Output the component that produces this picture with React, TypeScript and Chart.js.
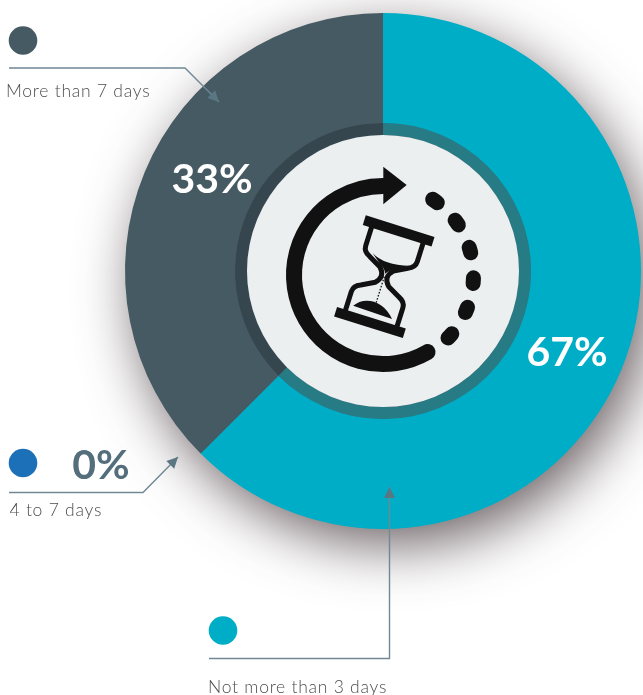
import React, { useEffect, useRef } from "react";
import { Chart, registerables } from "chart.js";

Chart.register(...registerables);

const categories = ["Not more than 3 days", "4 to 7 days", "More than 7 days"];
const percentLabels = ["67%", "0%", "33%"];
// slice sizes as drawn in the picture (share of the circle)
const sliceValues = [62.5, 0, 37.5];
const sliceColors = ["#00adc6", "#1b70b8", "#465a63"];
const ringColors = ["#277b84", "#1b70b8", "#36464f"];

const LINE = "#6f8894";
const TEXT = "#4d4d4d";
const ICON = "#111111";

const callouts = [
  { pts: [[209, 658.5], [389.5, 658.5], [389.5, 487]], dot: [223, 630.5], text: [208, 693] },
  { pts: [[9, 492.5], [143, 492.5], [178, 457]], dot: [23, 463], text: [9.5, 516] },
  { pts: [[9, 68], [185, 68], [219, 102]], dot: [23, 40.5], text: [6, 97] },
];
const percentPos = [
  { x: 567, y: 366, color: "#ffffff" },
  { x: 101, y: 479, color: "#546e7c" },
  { x: 212, y: 193, color: "#ffffff" },
];
const dotAngles = [-54.9, -35.4, -16, 3.6, 22.7, 42.3];

function arrowHead(ctx: CanvasRenderingContext2D, from: number[], tip: number[]) {
  const a = Math.atan2(tip[1] - from[1], tip[0] - from[0]);
  const len = 11;
  const w = 5.5;
  ctx.beginPath();
  ctx.moveTo(tip[0], tip[1]);
  ctx.lineTo(tip[0] - len * Math.cos(a) + w * Math.sin(a), tip[1] - len * Math.sin(a) - w * Math.cos(a));
  ctx.lineTo(tip[0] - len * Math.cos(a) - w * Math.sin(a), tip[1] - len * Math.sin(a) + w * Math.cos(a));
  ctx.closePath();
  ctx.fill();
}

function drawHourglass(ctx: CanvasRenderingContext2D, cx: number, cy: number) {
  ctx.save();
  ctx.translate(cx, cy);
  ctx.rotate((17.4 * Math.PI) / 180);
  ctx.fillStyle = ICON;
  ctx.strokeStyle = ICON;
  // bars
  ctx.fillRect(-36, -53, 72, 10);
  ctx.fillRect(-36, 43, 72, 10);
  // glass
  ctx.lineWidth = 5;
  ctx.lineJoin = "round";
  ctx.beginPath();
  ctx.moveTo(-27, -44);
  ctx.lineTo(-27, -24);
  ctx.quadraticCurveTo(-27, -18, -20, -15);
  ctx.lineTo(-7, -8);
  ctx.quadraticCurveTo(-3, -4, -3, 0);
  ctx.quadraticCurveTo(-3, 4, -7, 8);
  ctx.lineTo(-20, 15);
  ctx.quadraticCurveTo(-27, 18, -27, 24);
  ctx.lineTo(-27, 44);
  ctx.moveTo(27, -44);
  ctx.lineTo(27, -24);
  ctx.quadraticCurveTo(27, -18, 20, -15);
  ctx.lineTo(7, -8);
  ctx.quadraticCurveTo(3, -4, 3, 0);
  ctx.quadraticCurveTo(3, 4, 7, 8);
  ctx.lineTo(20, 15);
  ctx.quadraticCurveTo(27, 18, 27, 24);
  ctx.lineTo(27, 44);
  ctx.stroke();
  // upper sand
  ctx.beginPath();
  ctx.moveTo(-18, -19);
  ctx.quadraticCurveTo(-4, -11, 21, -18);
  ctx.lineTo(6, -9);
  ctx.quadraticCurveTo(1, -6, 0, -3);
  ctx.quadraticCurveTo(-2, -8, -7, -10);
  ctx.closePath();
  ctx.fill();
  // falling grains
  ctx.lineWidth = 1.3;
  ctx.setLineDash([1.6, 1.6]);
  ctx.beginPath();
  ctx.moveTo(0, 0);
  ctx.lineTo(0, 27);
  ctx.stroke();
  ctx.setLineDash([]);
  // lower sand
  ctx.beginPath();
  ctx.moveTo(-21, 37);
  ctx.bezierCurveTo(-14, 25, 6, 22, 20, 38);
  ctx.closePath();
  ctx.fill();
  ctx.restore();
}

function drawCenter(ctx: CanvasRenderingContext2D, cx: number, cy: number) {
  ctx.save();
  ctx.fillStyle = "#ebeff0";
  ctx.beginPath();
  ctx.arc(cx, cy, 136, 0, Math.PI * 2);
  ctx.fill();

  const ix = cx;
  const iy = cy + 4;
  const rad = (d: number) => (d * Math.PI) / 180;
  ctx.strokeStyle = ICON;
  ctx.fillStyle = ICON;
  ctx.lineWidth = 16;
  ctx.lineCap = "round";
  ctx.beginPath();
  ctx.arc(ix, iy, 89, rad(60), rad(-90) - 0.001 + Math.PI * 2, false);
  ctx.stroke();
  ctx.beginPath();
  ctx.moveTo(383.3, 166.7);
  ctx.lineTo(406.7, 185);
  ctx.lineTo(383.3, 204.3);
  ctx.closePath();
  ctx.fill();
  ctx.lineWidth = 15;
  dotAngles.forEach((d) => {
    ctx.beginPath();
    ctx.arc(ix, iy, 90.5, rad(d - 1.8), rad(d + 1.8));
    ctx.stroke();
  });
  ctx.lineCap = "butt";
  drawHourglass(ctx, cx + 1.3, cy + 5.7);
  ctx.restore();
}

const decorPlugin = {
  id: "decor",
  beforeDatasetsDraw(chart: any) {
    const arc = chart.getDatasetMeta(0).data[0];
    const ctx: CanvasRenderingContext2D = chart.ctx;
    ctx.save();
    ctx.shadowColor = "rgba(70,58,62,0.8)";
    ctx.shadowBlur = 56;
    ctx.shadowOffsetX = 10;
    ctx.shadowOffsetY = 17;
    ctx.fillStyle = "#465a63";
    ctx.beginPath();
    ctx.arc(arc.x, arc.y, arc.outerRadius - 1, 0, Math.PI * 2);
    ctx.fill();
    ctx.restore();
  },
  afterDatasetsDraw(chart: any) {
    const arc = chart.getDatasetMeta(0).data[0];
    const ctx: CanvasRenderingContext2D = chart.ctx;
    drawCenter(ctx, arc.x, arc.y);

    ctx.save();
    categories.forEach((label, i) => {
      const c = callouts[i];
      ctx.strokeStyle = LINE;
      ctx.lineWidth = 1.4;
      ctx.beginPath();
      c.pts.forEach((p, k) => (k ? ctx.lineTo(p[0], p[1]) : ctx.moveTo(p[0], p[1])));
      ctx.stroke();
      ctx.fillStyle = "#5b7683";
      arrowHead(ctx, c.pts[c.pts.length - 2], c.pts[c.pts.length - 1]);

      ctx.fillStyle = sliceColors[i];
      ctx.beginPath();
      ctx.arc(c.dot[0], c.dot[1], 14.3, 0, Math.PI * 2);
      ctx.fill();

      ctx.fillStyle = TEXT;
      ctx.font = '300 17.5px Lato, "Noto Sans", sans-serif';
      ctx.textAlign = "left";
      ctx.textBaseline = "alphabetic";
      (ctx as any).letterSpacing = "0.75px";
      ctx.fillText(label, c.text[0], c.text[1]);
      (ctx as any).letterSpacing = "0px";

      const pos = percentPos[i];
      ctx.fillStyle = pos.color;
      ctx.font = 'bold 41px Lato, "Noto Sans", sans-serif';
      ctx.textAlign = "center";
      ctx.fillText(percentLabels[i], pos.x, pos.y);
    });
    ctx.restore();
  },
};

export default function App() {
  const ref = useRef<HTMLCanvasElement>(null);
  useEffect(() => {
    const chart = new Chart(ref.current!, {
      type: "doughnut",
      data: {
        labels: categories,
        datasets: [
          { data: sliceValues, backgroundColor: sliceColors, borderWidth: 0, hoverOffset: 0, weight: 110 },
          { data: sliceValues, backgroundColor: ringColors, borderWidth: 0, hoverOffset: 0, weight: 12 },
        ],
      },
      options: {
        responsive: false,
        animation: false,
        cutout: 136,
        layout: { padding: { left: 125, top: 13, right: 2, bottom: 166 } },
        plugins: { legend: { display: false }, tooltip: { enabled: false } },
        events: [],
      },
      plugins: [decorPlugin],
    } as any);
    return () => chart.destroy();
  }, []);
  return (
    <canvas
      ref={ref}
      width={643}
      height={695}
      style={{ position: "absolute", left: 0, top: 0, width: 643, height: 695, background: "#ffffff" }}
    />
  );
}
